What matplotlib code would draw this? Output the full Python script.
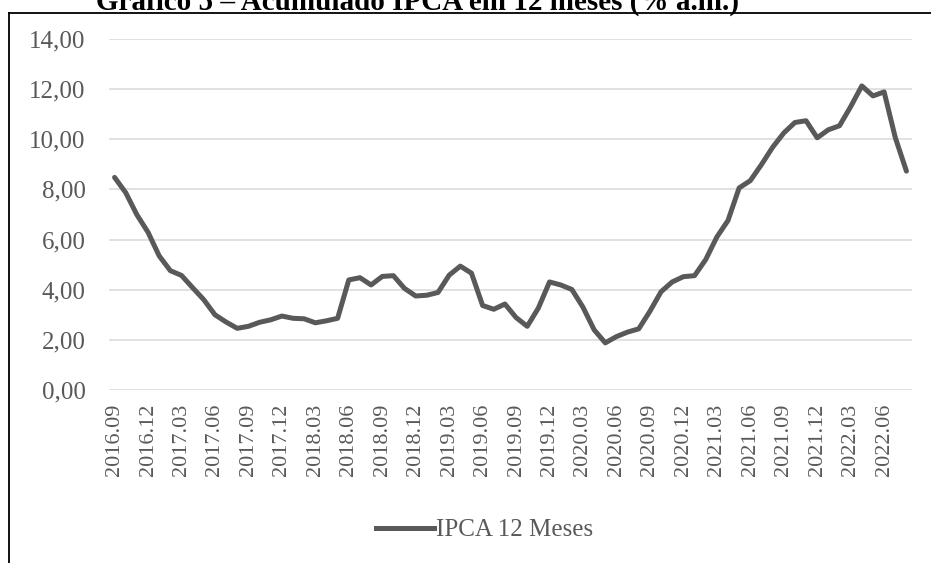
import matplotlib.pyplot as plt
from matplotlib.lines import Line2D

# IPCA acumulado em 12 meses, 2016.09 a 2022.08
months = ["2016.09", "2016.10", "2016.11", "2016.12",
          "2017.01", "2017.02", "2017.03", "2017.04", "2017.05", "2017.06",
          "2017.07", "2017.08", "2017.09", "2017.10", "2017.11", "2017.12",
          "2018.01", "2018.02", "2018.03", "2018.04", "2018.05", "2018.06",
          "2018.07", "2018.08", "2018.09", "2018.10", "2018.11", "2018.12",
          "2019.01", "2019.02", "2019.03", "2019.04", "2019.05", "2019.06",
          "2019.07", "2019.08", "2019.09", "2019.10", "2019.11", "2019.12",
          "2020.01", "2020.02", "2020.03", "2020.04", "2020.05", "2020.06",
          "2020.07", "2020.08", "2020.09", "2020.10", "2020.11", "2020.12",
          "2021.01", "2021.02", "2021.03", "2021.04", "2021.05", "2021.06",
          "2021.07", "2021.08", "2021.09", "2021.10", "2021.11", "2021.12",
          "2022.01", "2022.02", "2022.03", "2022.04", "2022.05", "2022.06",
          "2022.07", "2022.08"]
ipca_12m = [8.48, 7.87, 6.99, 6.29,
            5.35, 4.76, 4.57, 4.08, 3.60, 3.00, 2.71, 2.46, 2.54, 2.70, 2.80, 2.95,
            2.86, 2.84, 2.68, 2.76, 2.86, 4.39, 4.48, 4.19, 4.53, 4.56, 4.05, 3.75,
            3.78, 3.89, 4.58, 4.94, 4.66, 3.37, 3.22, 3.43, 2.89, 2.54, 3.27, 4.31,
            4.19, 4.01, 3.30, 2.40, 1.88, 2.13, 2.31, 2.44, 3.14, 3.92, 4.31, 4.52,
            4.56, 5.20, 6.10, 6.76, 8.06, 8.35, 8.99, 9.68, 10.25, 10.67, 10.74, 10.06,
            10.38, 10.54, 11.30, 12.13, 11.73, 11.89, 10.07, 8.73]
yticks = [0, 2, 4, 6, 8, 10, 12, 14]
title = "Gráfico 5 – Acumulado IPCA em 12 meses (% a.m.)"

plt.rcParams['font.family'] = ['Liberation Serif', 'DejaVu Serif']

fig = plt.figure(figsize=(9.31, 5.63), dpi=100)
ax = fig.add_axes([109 / 931, 173 / 563, 803 / 931, 351 / 563])

x = list(range(len(months)))
ax.plot(x, ipca_12m, color='#595959', linewidth=3.6, solid_capstyle='round',
        solid_joinstyle='round', label='IPCA 12 Meses', zorder=3)

ax.set_xlim(-0.5, len(months) - 0.5)
ax.set_ylim(0, 14)
ax.set_yticks(yticks)
# comma as decimal separator
ax.set_yticklabels([("%.2f" % v).replace('.', ',') for v in yticks],
                   fontsize=18, color='#595959')
ax.set_xticks(x[::3])
ax.set_xticklabels(months[::3], rotation=90, fontsize=16, color='#595959')
ax.tick_params(length=0)
ax.xaxis.set_tick_params(pad=10)
ax.yaxis.set_tick_params(pad=17)
ax.grid(axis='y', color='#d9d9d9', linewidth=1.1)
ax.set_axisbelow(True)
for s in ax.spines.values():
    s.set_visible(False)

fig.legend(handles=[Line2D([], [], color='#595959', linewidth=3.6)],
           labels=['IPCA 12 Meses'], loc='center',
           bbox_to_anchor=(485 / 931, 33 / 563), frameon=False,
           fontsize=18, handlelength=2.3, handletextpad=0.1,
           labelcolor='#595959')

# outer frame (only top and left visible)
fig.add_artist(Line2D([9 / 931, 1.0], [550 / 563, 550 / 563], color='black',
                      linewidth=1.3, transform=fig.transFigure))
fig.add_artist(Line2D([9 / 931, 9 / 931], [0, 550 / 563], color='black',
                      linewidth=1.3, transform=fig.transFigure))

fig.text(418 / 931, 553.5 / 563, title, ha='center', va='baseline',
         fontsize=21, fontweight='bold')

fig.savefig('out.png', dpi=100)
